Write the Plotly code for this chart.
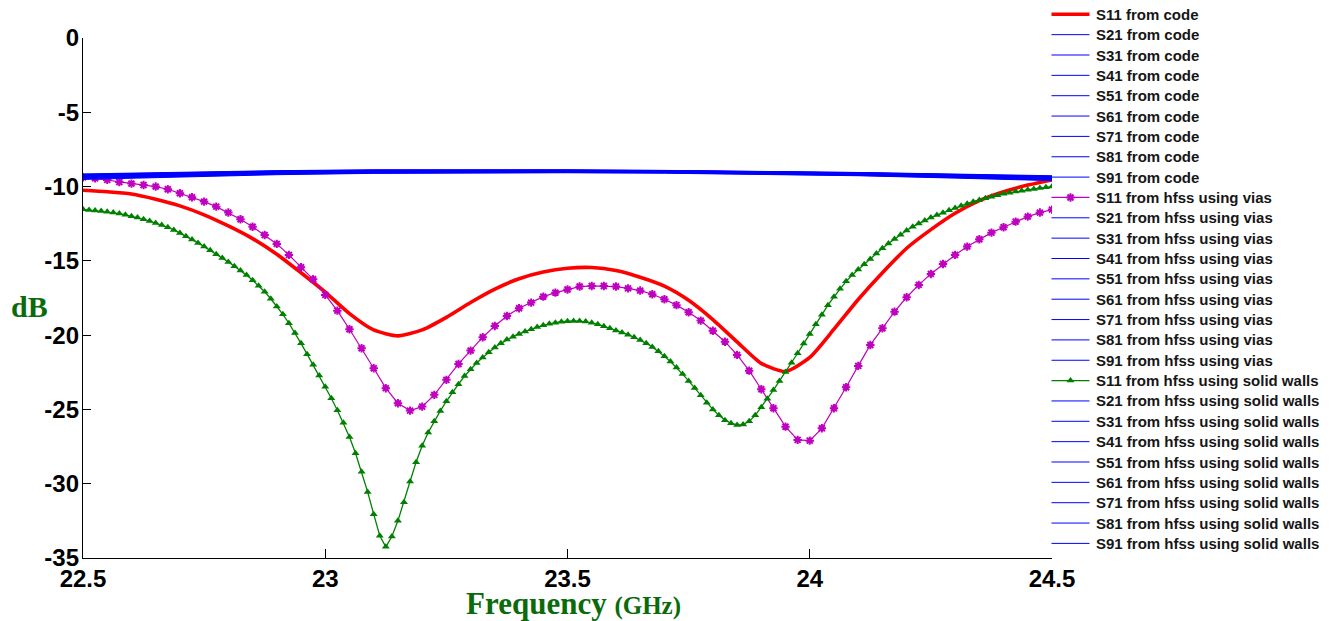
import numpy as np
import plotly.graph_objects as go

# ---------------------------------------------------------------------------
# Frequency sweeps (GHz)
freq_code = np.round(np.linspace(22.5, 24.5, 41), 4)     # 50 MHz step
freq_vias = np.round(np.linspace(22.5, 24.5, 81), 4)     # 25 MHz step
freq_walls = np.round(np.linspace(22.5, 24.5, 161), 4)   # 12.5 MHz step
freq_trans = np.round(np.linspace(22.5, 24.5, 11), 4)    # 200 MHz step

# Return loss S11 (dB)
s11_code = [
    -10.25, -10.35, -10.50, -10.85, -11.30, -11.90, -12.65, -13.50, -14.55, -15.80,
    -17.10, -18.55, -19.65, -20.05, -19.65, -18.80, -17.80, -16.90, -16.20, -15.75,
    -15.50, -15.45, -15.65, -16.10, -16.70, -17.65, -18.95, -20.45, -21.90, -22.45,
    -21.50, -19.60, -17.60, -15.80, -14.15, -12.90, -11.80, -10.95, -10.35, -9.90,
    -9.55,
]

s11_vias = [
    -9.38, -9.44, -9.55, -9.69, -9.80, -9.89, -10.00, -10.18, -10.45, -10.72,
    -11.01, -11.35, -11.75, -12.20, -12.70, -13.26, -13.86, -14.60, -15.43, -16.24,
    -17.29, -18.35, -19.60, -20.88, -22.23, -23.57, -24.58, -25.08, -24.81, -24.02,
    -23.01, -21.94, -21.04, -20.14, -19.38, -18.71, -18.19, -17.81, -17.41, -17.14,
    -16.93, -16.73, -16.69, -16.69, -16.73, -16.85, -17.00, -17.25, -17.58, -17.98,
    -18.46, -19.02, -19.70, -20.44, -21.33, -22.39, -23.64, -24.92, -26.16, -27.05,
    -27.10, -26.27, -24.92, -23.51, -22.07, -20.66, -19.54, -18.42, -17.45, -16.62,
    -15.88, -15.21, -14.60, -14.04, -13.55, -13.10, -12.74, -12.36, -12.02, -11.75,
    -11.55,
]

s11_walls = [
    -11.53, -11.57, -11.61, -11.65, -11.70, -11.75, -11.82, -11.90, -11.99, -12.09,
    -12.20, -12.32, -12.45, -12.59, -12.74, -12.92, -13.13, -13.34, -13.56, -13.79,
    -14.04, -14.29, -14.55, -14.81, -15.08, -15.36, -15.65, -15.96, -16.30, -16.67,
    -17.08, -17.55, -18.07, -18.60, -19.20, -19.85, -20.55, -21.28, -22.00, -22.72,
    -23.47, -24.25, -25.05, -25.90, -26.85, -27.95, -29.20, -30.55, -32.05, -33.50,
    -34.25, -33.55, -32.50, -31.25, -29.85, -28.55, -27.45, -26.55, -25.80, -25.10,
    -24.45, -23.85, -23.30, -22.75, -22.30, -21.88, -21.50, -21.15, -20.83, -20.55,
    -20.30, -20.10, -19.92, -19.76, -19.60, -19.46, -19.34, -19.24, -19.16, -19.10,
    -19.06, -19.04, -19.05, -19.09, -19.17, -19.27, -19.40, -19.54, -19.68, -19.82,
    -19.97, -20.14, -20.33, -20.55, -20.80, -21.09, -21.42, -21.78, -22.18, -22.62,
    -23.08, -23.55, -24.05, -24.55, -25.00, -25.40, -25.72, -25.93, -26.04, -26.02,
    -25.80, -25.40, -24.85, -24.28, -23.70, -23.08, -22.48, -21.85, -21.22, -20.57,
    -19.92, -19.27, -18.62, -17.98, -17.42, -16.88, -16.38, -15.95, -15.58, -15.23,
    -14.88, -14.50, -14.15, -13.83, -13.53, -13.24, -12.96, -12.70, -12.48, -12.28,
    -12.09, -11.92, -11.76, -11.60, -11.44, -11.29, -11.15, -11.02, -10.90, -10.79,
    -10.68, -10.58, -10.49, -10.41, -10.34, -10.28, -10.22, -10.16, -10.10, -10.05,
    -10.00,
]

# Transmission S21 ... S91 (dB), one row per output port
trans_code = [
    [-9.22, -9.08, -8.97, -8.91, -8.89, -8.91, -8.94, -8.99, -9.08, -9.20, -9.34],
    [-9.30, -9.15, -9.03, -8.96, -8.93, -8.94, -8.97, -9.03, -9.13, -9.26, -9.41],
    [-9.36, -9.20, -9.08, -9.00, -8.97, -8.97, -9.00, -9.06, -9.16, -9.30, -9.46],
    [-9.42, -9.26, -9.13, -9.05, -9.01, -9.01, -9.04, -9.10, -9.20, -9.35, -9.52],
    [-9.27, -9.12, -9.01, -8.94, -8.92, -8.93, -8.96, -9.02, -9.11, -9.24, -9.39],
    [-9.33, -9.17, -9.05, -8.98, -8.95, -8.95, -8.98, -9.04, -9.14, -9.28, -9.44],
    [-9.39, -9.23, -9.10, -9.02, -8.99, -8.99, -9.02, -9.08, -9.18, -9.32, -9.49],
    [-9.45, -9.28, -9.15, -9.07, -9.03, -9.03, -9.06, -9.12, -9.23, -9.38, -9.55],
]
trans_vias = [
    [-9.18, -9.05, -8.95, -8.89, -8.87, -8.89, -8.92, -8.97, -9.06, -9.18, -9.30],
    [-9.25, -9.11, -9.00, -8.93, -8.91, -8.92, -8.95, -9.01, -9.10, -9.22, -9.36],
    [-9.32, -9.17, -9.05, -8.97, -8.94, -8.95, -8.98, -9.04, -9.14, -9.27, -9.42],
    [-9.40, -9.24, -9.11, -9.03, -9.00, -9.00, -9.03, -9.09, -9.19, -9.33, -9.50],
    [-9.21, -9.08, -8.98, -8.92, -8.90, -8.91, -8.94, -9.00, -9.09, -9.21, -9.34],
    [-9.29, -9.14, -9.02, -8.95, -8.93, -8.94, -8.97, -9.03, -9.12, -9.25, -9.40],
    [-9.37, -9.21, -9.09, -9.01, -8.98, -8.98, -9.01, -9.07, -9.17, -9.31, -9.47],
    [-9.48, -9.31, -9.17, -9.09, -9.05, -9.05, -9.08, -9.14, -9.25, -9.40, -9.57],
]
trans_walls = [
    [-9.15, -9.03, -8.93, -8.87, -8.85, -8.87, -8.91, -8.96, -9.05, -9.16, -9.27],
    [-9.24, -9.10, -8.99, -8.93, -8.90, -8.91, -8.95, -9.00, -9.10, -9.22, -9.35],
    [-9.34, -9.18, -9.06, -8.98, -8.95, -8.96, -8.99, -9.05, -9.15, -9.28, -9.44],
    [-9.44, -9.27, -9.14, -9.06, -9.02, -9.02, -9.05, -9.11, -9.22, -9.37, -9.53],
    [-9.20, -9.07, -8.97, -8.91, -8.89, -8.90, -8.93, -8.99, -9.08, -9.20, -9.32],
    [-9.28, -9.13, -9.02, -8.95, -8.92, -8.93, -8.96, -9.02, -9.12, -9.25, -9.39],
    [-9.38, -9.22, -9.10, -9.02, -8.99, -8.99, -9.02, -9.08, -9.18, -9.32, -9.48],
    [-9.52, -9.34, -9.20, -9.11, -9.07, -9.07, -9.10, -9.16, -9.27, -9.43, -9.60],
]

sources = ["code", "hfss using vias", "hfss using solid walls"]
ports = ["S11", "S21", "S31", "S41", "S51", "S61", "S71", "S81", "S91"]

x_ticks = [22.5, 23, 23.5, 24, 24.5]
y_ticks = [0, -5, -10, -15, -20, -25, -30, -35]

# ---------------------------------------------------------------------------
RED = "#ff0000"
MAGENTA = "#bf00bf"
GREEN = "#008000"
BLUE = "#0000ff"
TITLE_GREEN = "#0b6b0b"

s11_styles = {
    "code": dict(freq=freq_code, y=s11_code,
                 line=dict(color=RED, width=3.6, shape="spline", smoothing=0.6),
                 mode="lines", marker=None),
    "hfss using vias": dict(freq=freq_vias, y=s11_vias,
                            line=dict(color=MAGENTA, width=1.2),
                            mode="lines+markers",
                            marker=dict(symbol="asterisk-open", size=7, color=MAGENTA,
                                        line=dict(color=MAGENTA, width=2))),
    "hfss using solid walls": dict(freq=freq_walls, y=s11_walls,
                                   line=dict(color=GREEN, width=1.3),
                                   mode="lines+markers",
                                   marker=dict(symbol="triangle-up", size=7, color=GREEN,
                                               line=dict(width=0))),
}
trans_data = {"code": trans_code, "hfss using vias": trans_vias,
              "hfss using solid walls": trans_walls}

# Page geometry (pixels)
W, H = 1330, 621
M_L, M_R, M_T, M_B = 83, 0, 0, 63
PLOT_W = W - M_L - M_R
PLOT_H = H - M_T - M_B
AX_RIGHT = 1052        # right end of the data axes
AX_TOP = 38            # top of the data axes
LEG_LEFT = 1040

fig = go.Figure()

for src in sources:
    st = s11_styles[src]
    kw = dict(x=st["freq"], y=st["y"], mode=st["mode"], line=st["line"],
              name=f"S11 from {src}", showlegend=False, hoverinfo="x+y+name")
    if st["marker"] is not None:
        kw["marker"] = st["marker"]
    fig.add_trace(go.Scatter(**kw))
    for p, row in zip(ports[1:], trans_data[src]):
        fig.add_trace(go.Scatter(x=freq_trans, y=row, mode="lines",
                                 line=dict(color=BLUE, width=1),
                                 name=f"{p} from {src}", showlegend=False))

# Legend, drawn on a pixel-scaled overlay axis to the right of the data axes
leg_top, leg_step = 14.3, 20.35
line_x0, line_x1, text_x = 1051.5, 1089.5, 1093.5
annotations = []
i = 0
for src in sources:
    for p in ports:
        yy = leg_top + leg_step * i
        name = f"{p} from {src}"
        if p == "S11":
            st = s11_styles[src]
            fig.add_trace(go.Scatter(x=[line_x0, line_x1], y=[yy, yy], mode="lines",
                                     line=dict(color=st["line"]["color"],
                                               width=st["line"]["width"]),
                                     xaxis="x2", yaxis="y2", showlegend=False,
                                     hoverinfo="skip"))
            if st["marker"] is not None:
                fig.add_trace(go.Scatter(x=[(line_x0 + line_x1) / 2], y=[yy],
                                         mode="markers", marker=st["marker"],
                                         xaxis="x2", yaxis="y2", showlegend=False,
                                         hoverinfo="skip"))
        else:
            fig.add_trace(go.Scatter(x=[line_x0, line_x1], y=[yy, yy], mode="lines",
                                     line=dict(color=BLUE, width=1),
                                     xaxis="x2", yaxis="y2", showlegend=False,
                                     hoverinfo="skip"))
        annotations.append(dict(
            x=text_x, y=yy, xref="x2", yref="y2", text=name, showarrow=False,
            xanchor="left", yanchor="middle",
            font=dict(family="Liberation Sans, Arial", size=15, color="#161616",
                      weight="bold")))
        i += 1


def px_to_paper(px, py):
    return (px - M_L) / PLOT_W, (H - M_B - py) / PLOT_H


# Axis titles
dbx, dby = px_to_paper(29, 306)
annotations.append(dict(x=dbx, y=dby, xref="paper", yref="paper", text="<b>dB</b>",
                        showarrow=False, xanchor="center", yanchor="middle",
                        font=dict(family="Liberation Serif, Times New Roman", size=30,
                                  color=TITLE_GREEN)))
fx, fy = px_to_paper(573, 603)
annotations.append(dict(x=fx, y=fy, xref="paper", yref="paper",
                        text="<b>Frequency</b> <b><span style='font-size:25px'>(GHz)</span></b>",
                        showarrow=False, xanchor="center", yanchor="middle",
                        font=dict(family="Liberation Serif, Times New Roman", size=31,
                                  color=TITLE_GREEN)))

tick_font = dict(family="Liberation Sans, Arial", size=24, color="black", weight="bold")

fig.update_layout(
    width=W, height=H,
    margin=dict(l=M_L, r=M_R, t=M_T, b=M_B, pad=0, autoexpand=False),
    paper_bgcolor="white",
    plot_bgcolor="rgba(0,0,0,0)",
    showlegend=False,
    annotations=annotations,
    xaxis=dict(
        domain=[0, (AX_RIGHT - M_L) / PLOT_W], range=[22.5, 24.5],
        tickvals=x_ticks, ticktext=[f"{v:g}" for v in x_ticks],
        ticks="inside", ticklen=9, tickwidth=1, tickcolor="black",
        showline=True, linecolor="black", linewidth=1.3, mirror=False,
        showgrid=False, zeroline=False, tickfont=tick_font,
        ticklabelstandoff=-1, anchor="y", automargin=False,
    ),
    yaxis=dict(
        domain=[0, (H - M_B - AX_TOP) / PLOT_H], range=[-35, 0],
        tickvals=y_ticks, ticktext=[f"{v:g}" for v in y_ticks],
        ticks="inside", ticklen=8, tickwidth=1, tickcolor="black",
        showline=True, linecolor="black", linewidth=1.3, mirror=False,
        showgrid=False, zeroline=False, tickfont=tick_font,
        ticklabelstandoff=-2, anchor="x", automargin=False,
    ),
    xaxis2=dict(domain=[(LEG_LEFT - M_L) / PLOT_W, 1], range=[LEG_LEFT, W - M_R],
                visible=False, anchor="y2", fixedrange=True, automargin=False),
    yaxis2=dict(domain=[0, 1], range=[H - M_B, M_T], visible=False, anchor="x2",
                fixedrange=True, automargin=False),
)

fig.write_html("out.html")
